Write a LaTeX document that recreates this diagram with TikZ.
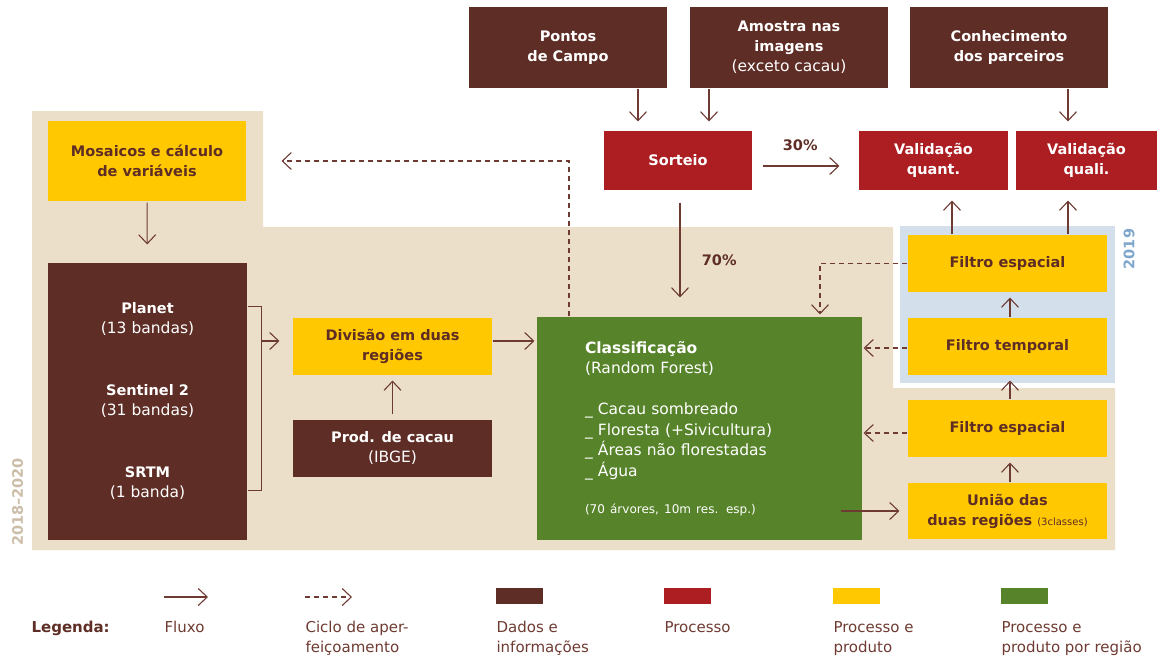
\documentclass[tikz,border=0pt]{standalone}
\usepackage{fontspec}
\setmainfont{DejaVu Sans}
\usepackage{xcolor}
\usepackage{tikz}
\usetikzlibrary{arrows.meta}
\usetikzlibrary{positioning}
\definecolor{dadosbrown}{HTML}{5E2D25}
\definecolor{procred}{HTML}{AD1E23}
\definecolor{prodyellow}{HTML}{FFC800}
\definecolor{regiaogreen}{HTML}{57842A}
\definecolor{fundobege}{HTML}{EBDFCA}
\definecolor{fundoazul}{HTML}{D3DFEA}
\definecolor{setacor}{HTML}{6E3B32}
\definecolor{anobege}{HTML}{CBBDA7}
\definecolor{anoazul}{HTML}{7EA6CC}
\newcommand{\fino}{\mdseries\fontsize{15.5}{20}\selectfont}
\tikzset{
    caixa/.style = {rectangle, align=center, inner sep=0pt, font=\fontsize{14.5}{20}\selectfont\bfseries},
    dados/.style = {caixa, fill=dadosbrown, text=white},
    processo/.style = {caixa, fill=procred, text=white},
    produto/.style = {caixa, fill=prodyellow, text=dadosbrown},
    regiao/.style = {caixa, fill=regiaogreen, text=white},
}

\begin{document}
\begin{tikzpicture}[
	x=1pt, y=-1pt,
	line width=1.1pt
]
\tikzset{
    fluxo/.style = {draw=setacor, -{Straight Barb[length=9pt,width=17pt]}},
    ciclo/.style = {fluxo, dash pattern=on 5pt off 4pt},
    rotulo/.style = {text=dadosbrown, font=\fontsize{14.5}{18}\selectfont\bfseries},
    legenda/.style = {text=setacor, anchor=north west, align=left, inner sep=0pt, font=\fontsize{15}{20}\selectfont},
    legcor/.style = {minimum width=47pt, minimum height=16pt, inner sep=0pt}
}
\useasboundingbox (0,0) rectangle (1159,657);
% fundos
\fill[fundobege] (32,111) -- (263,111) -- (263,227) -- (893,227) -- (893,388)
    -- (1115,388) -- (1115,550) -- (32,550) -- cycle;
\fill[fundoazul] (900,226) rectangle (1115,383);
\node[rotate=90, text=anobege, font=\fontsize{14.5}{16}\selectfont\bfseries] at (17.5,502) (anoA) {2018--2020};
\node[rotate=90, text=anoazul, font=\fontsize{14.5}{16}\selectfont\bfseries] at (1129,249) (anoB) {2019};
%
\node[dados, minimum width=198pt, minimum height=81pt] at (568,47.5) (pontos) {Pontos\\de Campo};
\node[dados, minimum width=198pt, minimum height=81pt] at (789,47.5) (amostra) {Amostra nas\\imagens\\{\fino(exceto cacau)}};
\node[dados, minimum width=198pt, minimum height=81pt] at (1009,47.5) (conhec) {Conhecimento\\dos parceiros};
\node[processo, minimum width=148pt, minimum height=59pt] at (678,160.5) (sorteio) {Sorteio};
\node[processo, minimum width=149pt, minimum height=59pt] at (933.5,160.5) (valquant) {Validação\\quant.};
\node[processo, minimum width=141pt, minimum height=59pt] at (1086.5,160.5) (valquali) {Validação\\quali.};
%
\node[produto, minimum width=198pt, minimum height=80pt] at (147,161) (mosaicos) {Mosaicos e cálculo\\de variáveis};
\node[dados, minimum width=199pt, minimum height=277pt] at (147.5,401.5) (satelites)
    {Planet\\{\fino(13 bandas)}\\[42pt]Sentinel 2\\{\fino(31 bandas)}\\[42pt]SRTM\\{\fino(1 banda)}};
\node[produto, minimum width=199pt, minimum height=57pt] at (392.5,346.5) (divisao) {Divisão em duas\\regiões};
\node[dados, minimum width=199pt, minimum height=57pt] at (392.5,448.5) (prodcacau) {Prod. de cacau\\{\fino(IBGE)}};
\node[regiao, align=left, text width=229pt, minimum width=325pt, minimum height=223pt,
    font=\fontsize{15.5}{20.5}\selectfont] at (699.5,428.5) (classif)
    {\textbf{Classificação}\\(Random Forest)\\[20.5pt]\_ Cacau sombreado\\\_ Floresta (+Sivicultura)\\\_ Áreas não florestadas\\\_ Água\\[17pt]{\fontsize{12}{14}\selectfont(70 árvores, 10m res. esp.)}};
%
\node[produto, minimum width=199pt, minimum height=57pt] at (1007.5,263.5) (filtroespB) {Filtro espacial};
\node[produto, minimum width=199pt, minimum height=57pt] at (1007.5,346.5) (filtrotemp) {Filtro temporal};
\node[produto, minimum width=199pt, minimum height=57pt] at (1007.5,428.5) (filtroespA) {Filtro espacial};
\node[produto, minimum width=199pt, minimum height=56pt] at (1007.5,511) (uniao) {União das\\duas regiões {\mdseries\fontsize{10}{12}\selectfont(3classes)}};
%
\draw[fluxo, shorten >=9pt] ([xshift=70pt]pontos.south) -- ([xshift=-40pt]sorteio.north);
\draw[fluxo, shorten >=9pt] ([xshift=-80pt]amostra.south) -- ([xshift=31pt]sorteio.north);
\draw[fluxo, shorten >=9pt] ([xshift=59pt]conhec.south) -- ([xshift=-18.5pt]valquali.north);
\draw[fluxo, shorten <=10pt, shorten >=19pt] ([yshift=-5.5pt]sorteio.east) -- ([yshift=-5.5pt]valquant.west)
    node[rotulo, pos=0.45, above=11pt] {30\%};
\draw[fluxo, shorten <=12pt, shorten >=19pt] ([xshift=2pt]sorteio.south) -- ([xshift=-19.5pt]classif.north)
    node[rotulo, pos=0.55, right=18pt] {70\%};
%
\draw[fluxo, shorten <=1pt, shorten >=18pt] (mosaicos) -- (satelites);
\coordinate (chaveA) at ([yshift=95.5pt]satelites.east);
\coordinate (chaveB) at ([yshift=-88.5pt]satelites.east);
\draw[setacor, line width=1pt] (chaveA) -- ++(14,0) |- (chaveB);
\draw[fluxo, shorten >=13pt] ([xshift=14pt,yshift=5.5pt]satelites.east |- divisao.west) -- ([yshift=5.5pt]divisao.west);
\draw[fluxo, shorten <=5pt, shorten >=5pt] (prodcacau) -- (divisao);
\draw[fluxo, shorten >=2pt] ([yshift=5.5pt]divisao.east) -- ([yshift=5.5pt]divisao.east -| classif.west);
%
\draw[fluxo, shorten >=8pt] ([xshift=-22pt]classif.east |- uniao.west) -- (uniao.west);
\draw[fluxo, shorten >=5pt] ([xshift=2.5pt]uniao.north) -- ([xshift=2.5pt]filtroespA.south);
\draw[fluxo, shorten >=5pt] ([xshift=2.5pt]filtroespA.north) -- ([xshift=2.5pt]filtrotemp.south);
\draw[fluxo, shorten >=5pt] ([xshift=2.5pt]filtrotemp.north) -- ([xshift=2.5pt]filtroespB.south);
\draw[fluxo, shorten >=10pt] ([xshift=-55.5pt]filtroespB.north) -- ([xshift=18.5pt]valquant.south);
\draw[fluxo, shorten >=10pt] ([xshift=60.5pt]filtroespB.north) -- ([xshift=-18.5pt]valquali.south);
%
\draw[ciclo, shorten >=1pt] ([yshift=-1.5pt]filtrotemp.west) -- ([yshift=-1.5pt]filtrotemp.west -| classif.east);
\draw[ciclo, shorten >=1pt] ([yshift=-4.5pt]filtroespA.west) -- ([yshift=-4.5pt]filtroespA.west -| classif.east);
\draw[ciclo, shorten >=2pt] (filtroespB.west) -| ([xshift=120.5pt]classif.north);
\draw[ciclo, shorten >=35pt] ([xshift=-130.5pt]classif.north) |- (mosaicos.east);
%
% legenda
\node[legenda, text=dadosbrown, font=\fontsize{15}{20}\selectfont\bfseries] at (31,621) (leg) {Legenda:};
\coordinate (fluxoA) at (164,597);
\coordinate (fluxoB) at (208,597);
\draw[fluxo] (fluxoA) -- (fluxoB);
\node[legenda] at (164,621) (legfluxo) {Fluxo};
\coordinate (cicloA) at (305,597);
\coordinate (cicloB) at (352,597);
\draw[ciclo] (cicloA) -- (cicloB);
\node[legenda] at (305,621) (legciclo) {Ciclo de aper-\\feiçoamento};
\node[legcor, fill=dadosbrown] at (519.5,596) (cordados) {};
\node[legenda] at (496,621) (legdados) {Dados e\\informações};
\node[legcor, fill=procred] at (687.5,596) (corproc) {};
\node[legenda] at (664,621) (legproc) {Processo};
\node[legcor, fill=prodyellow] at (856.5,596) (corprod) {};
\node[legenda] at (833,621) (legprod) {Processo e\\produto};
\node[legcor, fill=regiaogreen] at (1024.5,596) (correg) {};
\node[legenda] at (1001,621) (legreg) {Processo e\\produto por região};
\end{tikzpicture}
\end{document}
